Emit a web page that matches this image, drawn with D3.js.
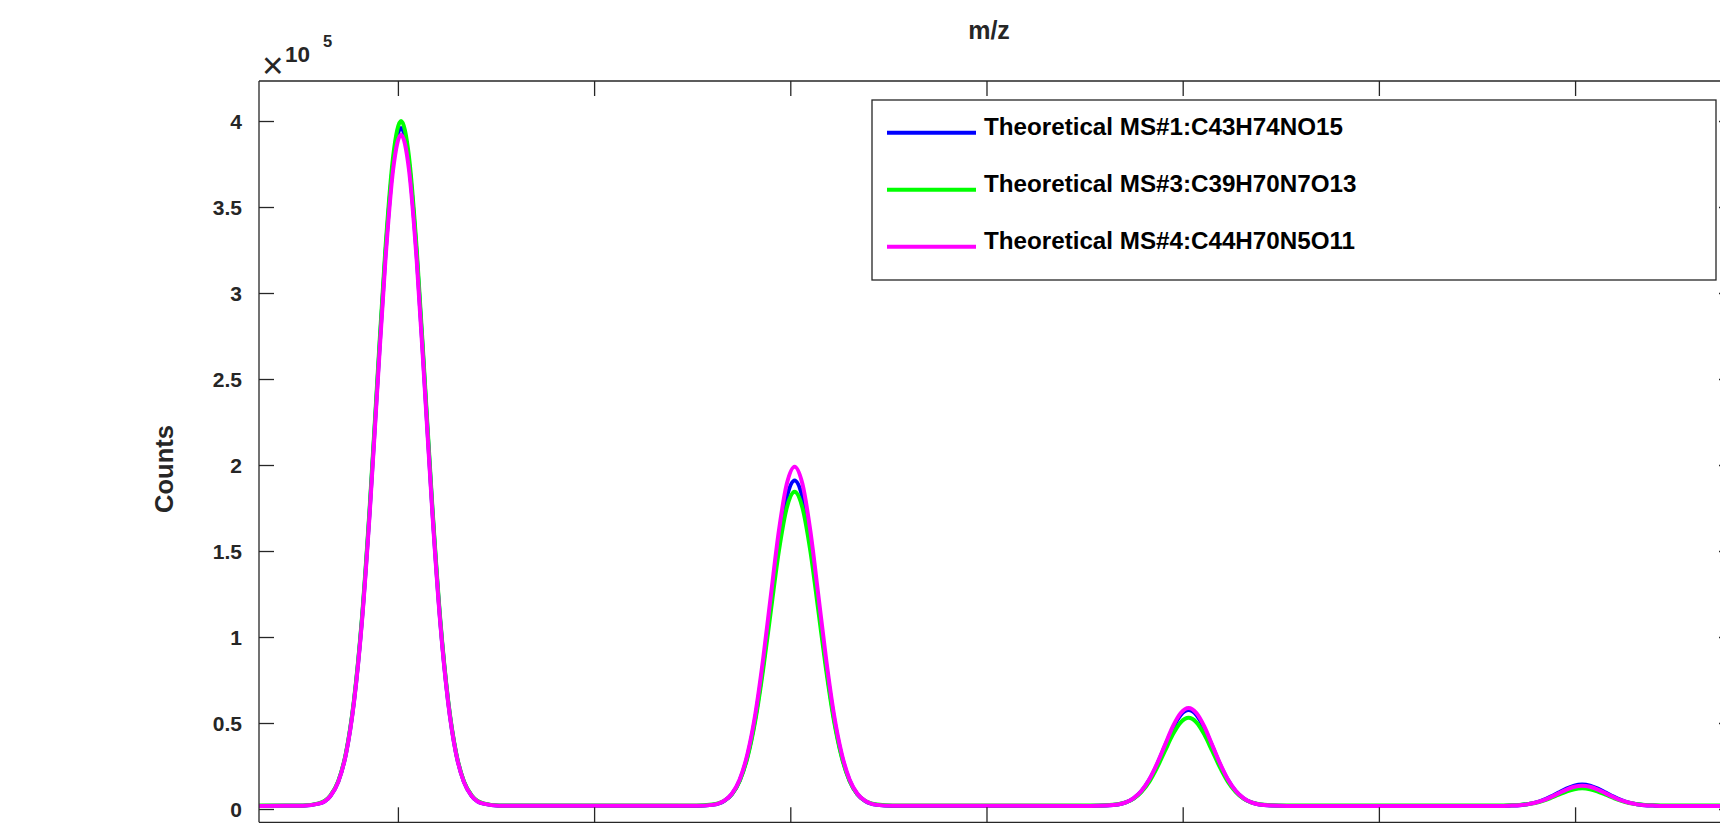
<!DOCTYPE html>
<html lang="en">
<head>
    <meta charset="utf-8">
    <title>Theoretical MS</title>
    <script src="https://cdn.jsdelivr.net/npm/d3@7"></script>
    <style>
        html, body { margin: 0; padding: 0; background: #fff; overflow: hidden; }
        svg { display: block; font-family: "Liberation Sans", Arial, Helvetica, sans-serif; }
        .axis line, .axis path { stroke: #262626; }
        .axis text { fill: #262626; font-weight: bold; }
    </style>
</head>
<body>
<svg id="chart"></svg>

<script>
    // m/z sample positions (shared by all three spectra)
    const mz = [
        844.146,
        844.258, 844.298, 844.328, 844.348, 844.368, 844.388, 844.408, 844.428, 844.448, 844.468, 844.488, 844.508,
        844.528, 844.548, 844.568, 844.588, 844.608, 844.628, 844.648, 844.668, 844.688, 844.718, 844.758,
        845.261, 845.301, 845.331, 845.351, 845.371, 845.391, 845.411, 845.431, 845.451, 845.471, 845.491, 845.511,
        845.531, 845.551, 845.571, 845.591, 845.611, 845.631, 845.651, 845.671, 845.691, 845.721, 845.761,
        846.265, 846.305, 846.335, 846.355, 846.375, 846.395, 846.415, 846.435, 846.455, 846.475, 846.495, 846.515,
        846.535, 846.555, 846.575, 846.595, 846.615, 846.635, 846.655, 846.675, 846.695, 846.725, 846.765,
        847.268, 847.308, 847.338, 847.358, 847.378, 847.398, 847.418, 847.438, 847.458, 847.478, 847.498, 847.518,
        847.538, 847.558, 847.578, 847.598, 847.618, 847.638, 847.658, 847.678, 847.698, 847.728, 847.768,
        847.905
    ];

    // counts, in units of 10^5
    const countsMS1 = [
        0.018,
        0.019, 0.031, 0.076, 0.159, 0.326, 0.625, 1.090, 1.733, 2.486, 3.219, 3.759, 3.960,
        3.759, 3.219, 2.486, 1.733, 1.090, 0.625, 0.326, 0.159, 0.076, 0.031, 0.019,
        0.018, 0.024, 0.046, 0.086, 0.166, 0.309, 0.533, 0.841, 1.202, 1.554, 1.813, 1.910,
        1.813, 1.554, 1.202, 0.841, 0.533, 0.309, 0.166, 0.086, 0.046, 0.024, 0.018,
        0.018, 0.020, 0.026, 0.038, 0.062, 0.104, 0.170, 0.260, 0.367, 0.470, 0.547, 0.575,
        0.547, 0.470, 0.367, 0.260, 0.170, 0.104, 0.062, 0.038, 0.026, 0.020, 0.018,
        0.018, 0.018, 0.020, 0.022, 0.028, 0.037, 0.052, 0.072, 0.096, 0.119, 0.136, 0.142,
        0.136, 0.119, 0.096, 0.072, 0.052, 0.037, 0.028, 0.022, 0.020, 0.018, 0.018,
        0.018
    ];
    const countsMS3 = [
        0.020,
        0.021, 0.033, 0.079, 0.162, 0.331, 0.633, 1.103, 1.751, 2.511, 3.252, 3.797, 4.000,
        3.797, 3.252, 2.511, 1.751, 1.103, 0.633, 0.331, 0.162, 0.079, 0.033, 0.021,
        0.020, 0.026, 0.047, 0.085, 0.163, 0.301, 0.516, 0.814, 1.162, 1.502, 1.752, 1.845,
        1.752, 1.502, 1.162, 0.814, 0.516, 0.301, 0.163, 0.085, 0.047, 0.026, 0.020,
        0.020, 0.022, 0.028, 0.038, 0.060, 0.099, 0.159, 0.242, 0.339, 0.434, 0.504, 0.530,
        0.504, 0.434, 0.339, 0.242, 0.159, 0.099, 0.060, 0.038, 0.028, 0.022, 0.020,
        0.020, 0.020, 0.022, 0.024, 0.028, 0.035, 0.047, 0.064, 0.083, 0.101, 0.115, 0.120,
        0.115, 0.101, 0.083, 0.064, 0.047, 0.035, 0.028, 0.024, 0.022, 0.020, 0.020,
        0.020
    ];
    const countsMS4 = [
        0.018,
        0.019, 0.031, 0.076, 0.158, 0.323, 0.619, 1.079, 1.715, 2.461, 3.186, 3.721, 3.920,
        3.721, 3.186, 2.461, 1.715, 1.079, 0.619, 0.323, 0.158, 0.076, 0.031, 0.019,
        0.019, 0.024, 0.047, 0.089, 0.172, 0.322, 0.554, 0.876, 1.252, 1.619, 1.889, 1.990,
        1.889, 1.619, 1.252, 0.876, 0.554, 0.322, 0.172, 0.089, 0.047, 0.024, 0.019,
        0.018, 0.020, 0.026, 0.038, 0.063, 0.106, 0.173, 0.266, 0.374, 0.480, 0.558, 0.587,
        0.558, 0.480, 0.374, 0.266, 0.173, 0.106, 0.063, 0.038, 0.026, 0.020, 0.018,
        0.018, 0.018, 0.020, 0.022, 0.027, 0.036, 0.050, 0.069, 0.091, 0.113, 0.129, 0.135,
        0.129, 0.113, 0.091, 0.069, 0.050, 0.036, 0.027, 0.022, 0.020, 0.018, 0.018,
        0.018
    ];

    const seriesNames = [
        "Theoretical MS#1:C43H74NO15",
        "Theoretical MS#3:C39H70N7O13",
        "Theoretical MS#4:C44H70N5O11"
    ];
    const seriesColors = ["#0000ff", "#00ff00", "#ff00ff"];

    const xTicks = [844.5, 845, 845.5, 846, 846.5, 847, 847.5];
    const yTicks = [0, 0.5, 1, 1.5, 2, 2.5, 3, 3.5, 4];
    const yTickLabels = ["0", "0.5", "1", "1.5", "2", "2.5", "3", "3.5", "4"];

    const xDomain = [844.146, 847.905];
    const yDomain = [-0.0773, 4.2326];

    // layout (page pixels)
    var W = 1720, H = 824;
    var plot = {left: 259, right: 1734, top: 81, bottom: 822.3};
    var tickLen = 15;
    var axisColor = "#262626";

    var svg = d3.select("#chart")
        .attr("width", W)
        .attr("height", H);

    var x = d3.scaleLinear().domain(xDomain).range([plot.left, plot.right]);
    var y = d3.scaleLinear().domain(yDomain).range([plot.bottom, plot.top]);

    svg.append("clipPath").attr("id", "plotClip")
        .append("rect")
        .attr("x", plot.left).attr("y", plot.top)
        .attr("width", plot.right - plot.left)
        .attr("height", plot.bottom - plot.top);

    // the spectra (drawn in plot order: MS#1, MS#3, MS#4)
    var series = [countsMS1, countsMS3, countsMS4];
    var line = d3.line()
        .x(function(d) { return x(d[0]); })
        .y(function(d) { return y(d[1]); })
        .curve(d3.curveMonotoneX);

    svg.append("g")
        .attr("clip-path", "url(#plotClip)")
        .selectAll("path")
        .data(series)
        .enter().append("path")
        .attr("fill", "none")
        .attr("stroke", function(d, i) { return seriesColors[i]; })
        .attr("stroke-width", 4)
        .attr("stroke-linejoin", "round")
        .attr("d", function(vals) { return line(mz.map(function(m, j) { return [m, vals[j]]; })); });

    // axes: ticks point inward, box on all four sides
    var axisWidth = 1.3;
    var yLeft = svg.append("g")
        .attr("class", "axis")
        .attr("transform", "translate(" + plot.left + ",0)")
        .call(d3.axisRight(y).tickValues(yTicks).tickSize(tickLen).tickFormat(""));
    var yRight = svg.append("g")
        .attr("class", "axis")
        .attr("transform", "translate(" + plot.right + ",0)")
        .call(d3.axisLeft(y).tickValues(yTicks).tickSize(tickLen).tickFormat(""));
    var xBottom = svg.append("g")
        .attr("class", "axis")
        .attr("transform", "translate(0," + plot.bottom + ")")
        .call(d3.axisTop(x).tickValues(xTicks).tickSize(tickLen).tickFormat(""));
    var xTop = svg.append("g")
        .attr("class", "axis")
        .attr("transform", "translate(0," + plot.top + ")")
        .call(d3.axisBottom(x).tickValues(xTicks).tickSize(tickLen).tickFormat(""));

    [yLeft, yRight, xBottom, xTop].forEach(function(g) {
        g.select(".domain").attr("stroke-width", axisWidth);
        g.selectAll(".tick line").attr("stroke-width", axisWidth);
    });
    // plain box lines instead of the domain paths (no outer ticks)
    yLeft.select(".domain").attr("d", "M0," + plot.top + "V" + plot.bottom);
    yRight.select(".domain").attr("d", "M0," + plot.top + "V" + plot.bottom);
    xBottom.select(".domain").attr("d", "M" + plot.left + ",0H" + plot.right);
    xTop.select(".domain").attr("d", "M" + plot.left + ",0H" + plot.right);

    // y tick labels
    svg.append("g")
        .selectAll("text")
        .data(yTicks)
        .enter().append("text")
        .attr("x", plot.left - 17)
        .attr("y", function(d) { return y(d); })
        .attr("dy", "0.36em")
        .attr("text-anchor", "end")
        .attr("font-size", 21)
        .attr("font-weight", "bold")
        .attr("fill", axisColor)
        .text(function(d, i) { return yTickLabels[i]; });

    // exponent marker  x10^5
    svg.append("text")
        .attr("x", 262).attr("y", 78)
        .attr("font-size", 37)
        .attr("fill", axisColor)
        .text("\u00d7");
    svg.append("text")
        .attr("x", 285).attr("y", 61.7)
        .attr("font-size", 22.5)
        .attr("font-weight", "bold")
        .attr("fill", axisColor)
        .text("10");
    svg.append("text")
        .attr("x", 323).attr("y", 46.7)
        .attr("font-size", 16.5)
        .attr("font-weight", "bold")
        .attr("fill", axisColor)
        .text("5");

    // axis labels
    svg.append("text")
        .attr("x", 989)
        .attr("y", 39)
        .attr("text-anchor", "middle")
        .attr("font-size", 25)
        .attr("font-weight", "bold")
        .attr("fill", axisColor)
        .text("m/z");

    svg.append("text")
        .attr("transform", "translate(173,469) rotate(-90)")
        .attr("text-anchor", "middle")
        .attr("font-size", 25.5)
        .attr("font-weight", "bold")
        .attr("fill", axisColor)
        .text("Counts");

    // legend
    var leg = {x: 872, y: 100, w: 844, h: 180};
    var legend = svg.append("g");
    legend.append("rect")
        .attr("x", leg.x).attr("y", leg.y)
        .attr("width", leg.w).attr("height", leg.h)
        .attr("fill", "#fff")
        .attr("stroke", axisColor)
        .attr("stroke-width", axisWidth);

    var rows = legend.selectAll(".row")
        .data(seriesNames)
        .enter().append("g")
        .attr("class", "row")
        .attr("transform", function(d, i) { return "translate(0," + (132.7 + i * 57) + ")"; });
    rows.append("line")
        .attr("x1", 887).attr("x2", 976)
        .attr("stroke", function(d, i) { return seriesColors[i]; })
        .attr("stroke-width", 4);
    rows.append("text")
        .attr("x", 984)
        .attr("dy", 2)
        .attr("font-size", 24.2)
        .attr("font-weight", "bold")
        .attr("fill", "#000")
        .text(function(d) { return d; });
</script>
</body>
</html>
